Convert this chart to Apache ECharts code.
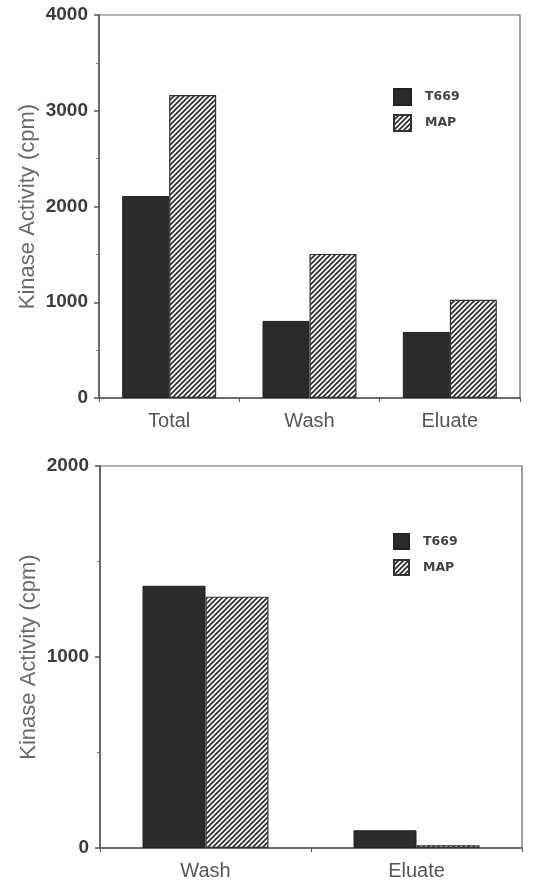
<!DOCTYPE html>
<html>
<head>
<meta charset="utf-8">
<script src="https://cdn.jsdelivr.net/npm/echarts@6/dist/echarts.min.js"></script>
<style>html,body{margin:0;padding:0;background:#fff;}#c{width:543px;height:881px;}</style>
</head>
<body>
<div id="c"></div>
<script>
// Data
const topCategories = ['Total', 'Wash', 'Eluate'];
const topT669 = [2110, 805, 690];
const topMAP = [3165, 1505, 1025];
const topTicks = [0, 1000, 2000, 3000, 4000];

const bottomCategories = ['Wash', 'Eluate'];
const bottomT669 = [1373, 93];
const bottomMAP = [1316, 15];
const bottomTicks = [0, 1000, 2000];

const seriesNames = ['T669', 'MAP'];

// hatch pattern
function hatch() {
  const s = 5;
  const c = document.createElement('canvas');
  c.width = s; c.height = s;
  const g = c.getContext('2d');
  g.fillStyle = '#f4f4f4';
  g.fillRect(0, 0, s, s);
  g.strokeStyle = '#2e2e2e';
  g.lineWidth = 1.6;
  g.beginPath();
  g.moveTo(0, s); g.lineTo(s, 0);
  g.moveTo(-1, 1); g.lineTo(1, -1);
  g.moveTo(s - 1, s + 1); g.lineTo(s + 1, s - 1);
  g.stroke();
  return { image: c, repeat: 'repeat' };
}
const pat = hatch();
const solid = '#2b2b2b';

const chart = echarts.init(document.getElementById('c'), null, { renderer: 'canvas' });

const tickLabel = { color: '#3c3c3c', fontWeight: 'bold', fontSize: 19, fontFamily: 'Liberation Sans, Arial', margin: 11,
  formatter: function (v) { return String(v); } };
const catLabel = { color: '#555', fontSize: 20, fontFamily: 'Liberation Sans, Arial', margin: 13 };
const axisLine = { show: true, lineStyle: { color: '#555', width: 1.5 } };
const nameStyle = { color: '#6a6a6a', fontSize: 22, fontFamily: 'Liberation Sans, Arial' };

function yAxis(gi, max, ticks) {
  return {
    type: 'value', gridIndex: gi, min: ticks[0], max: max, interval: ticks[1] - ticks[0],
    name: 'Kinase Activity (cpm)', nameLocation: 'middle', nameGap: 60, nameMoveOverlap: false, nameTextStyle: nameStyle,
    axisLine: axisLine,
    axisTick: { show: true, length: 5, lineStyle: { color: '#555', width: 1.5 } },
    minorTick: { show: true, splitNumber: 2, length: 3, lineStyle: { color: '#777' } },
    axisLabel: tickLabel,
    splitLine: { show: false }
  };
}
function xAxis(gi, cats) {
  return {
    type: 'category', gridIndex: gi, data: cats,
    axisLine: axisLine,
    axisTick: { show: true, length: 4, lineStyle: { color: '#555' } },
    axisLabel: catLabel
  };
}
const legendText = { color: '#444', fontWeight: 'bold', fontSize: 12.5, fontFamily: 'DejaVu Sans', padding: [0, 0, 0, 9] };

chart.setOption({
  animation: false,
  backgroundColor: '#fff',
  grid: [
    { left: 99, top: 15, width: 421, height: 383, show: true, borderColor: '#666', borderWidth: 1.2, containLabel: false },
    { left: 100, top: 466, width: 422, height: 386, show: true, borderColor: '#666', borderWidth: 1.2, containLabel: false }
  ],
  legend: [
    { orient: 'vertical', left: 388, top: 83, itemWidth: 17, itemHeight: 16, itemGap: 8, icon: 'rect', textStyle: legendText, data: seriesNames },
    { orient: 'vertical', left: 388, top: 528, itemWidth: 15, itemHeight: 15, itemGap: 9, icon: 'rect', textStyle: legendText, data: seriesNames }
  ],
  xAxis: [xAxis(0, topCategories), xAxis(1, bottomCategories)],
  yAxis: [yAxis(0, topTicks[topTicks.length - 1], topTicks), yAxis(1, bottomTicks[bottomTicks.length - 1], bottomTicks)],
  series: [
    { name: seriesNames[0], type: 'bar', xAxisIndex: 0, yAxisIndex: 0, data: topT669, barWidth: 47, barGap: '0%',
      itemStyle: { color: solid, borderColor: '#222', borderWidth: 1 } },
    { name: seriesNames[1], type: 'bar', xAxisIndex: 0, yAxisIndex: 0, data: topMAP, barWidth: 47, barGap: '0%',
      itemStyle: { color: pat, borderColor: '#333', borderWidth: 1.2 } },
    { name: seriesNames[0], type: 'bar', xAxisIndex: 1, yAxisIndex: 1, data: bottomT669, barWidth: 63, barGap: '0%',
      itemStyle: { color: solid, borderColor: '#222', borderWidth: 1 } },
    { name: seriesNames[1], type: 'bar', xAxisIndex: 1, yAxisIndex: 1, data: bottomMAP, barWidth: 63, barGap: '0%',
      itemStyle: { color: pat, borderColor: '#333', borderWidth: 1.2 } }
  ]
});
</script>
</body>
</html>
